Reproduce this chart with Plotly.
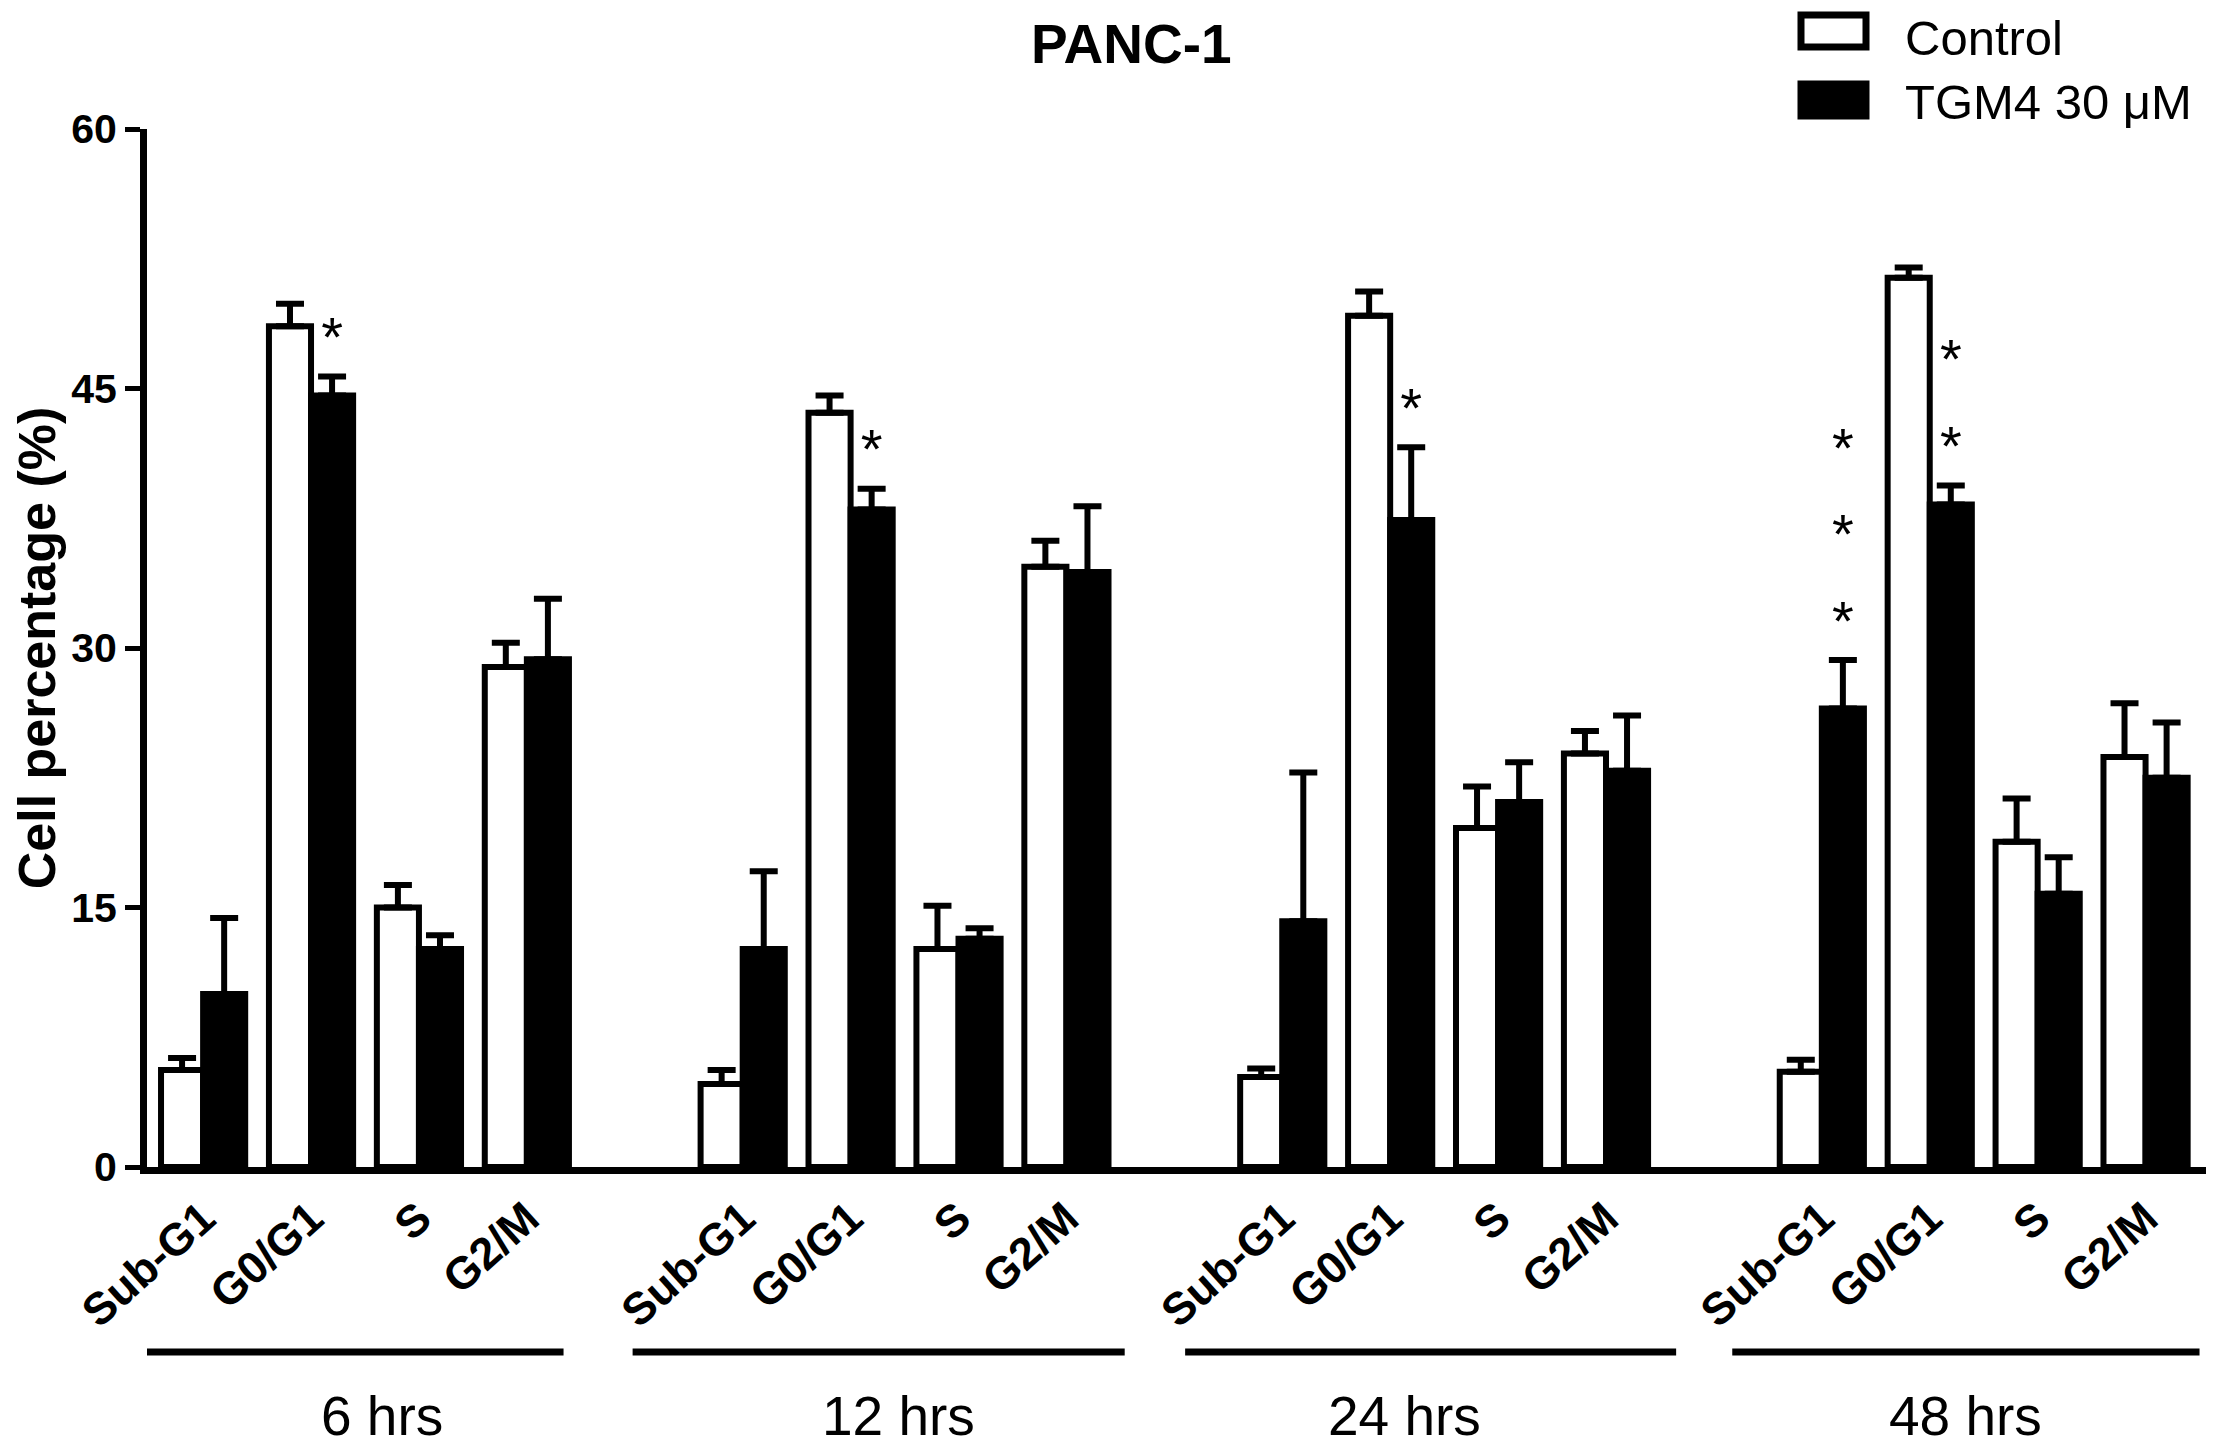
import plotly.graph_objects as go

# ---------------- data ----------------
phases = ["Sub-G1", "G0/G1", "S", "G2/M"]
times = ["6 hrs", "12 hrs", "24 hrs", "48 hrs"]

control_mean = [5.6, 48.6, 15.0, 28.9,
                4.8, 43.6, 12.6, 34.7,
                5.2, 49.2, 19.6, 23.9,
                5.5, 51.4, 18.8, 23.7]
control_err = [0.7, 1.3, 1.3, 1.4,
               0.8, 1.0, 2.5, 1.5,
               0.5, 1.4, 2.4, 1.3,
               0.7, 0.6, 2.5, 3.1]
tgm4_mean = [10.0, 44.6, 12.6, 29.35,
             12.6, 38.0, 13.2, 34.4,
             14.2, 37.4, 21.1, 22.9,
             26.5, 38.3, 15.8, 22.5]
tgm4_err = [4.4, 1.1, 0.8, 3.5,
            4.5, 1.2, 0.6, 3.8,
            8.6, 4.2, 2.3, 3.2,
            2.8, 1.1, 2.1, 3.2]
stars = [0, 1, 0, 0,
         0, 1, 0, 0,
         0, 1, 0, 0,
         3, 2, 0, 0]

# ---------------- layout helpers ----------------
PAGE_OFF = 8                      # default body margin of the html page
FW, FH = 2217 - 2 * PAGE_OFF, 1455 - 2 * PAGE_OFF
L = 147 - PAGE_OFF
R = FW - (2206 - PAGE_OFF)
T = 129 - PAGE_OFF
B = FH - (1167 - PAGE_OFF)
FONT = "Liberation Sans, Arial, sans-serif"
BARGAP = 0.22


def px_x(px):
    return (px - PAGE_OFF - L) / (FW - L - R)


def px_y(py):
    return (FH - B - (py - PAGE_OFF)) / (FH - B - T)


xpos = [g * 5 + i for g in range(len(times)) for i in range(len(phases))]
ticktext = [p for _ in times for p in phases]

fig = go.Figure()
fig.add_trace(go.Bar(
    x=xpos, y=control_mean, name="Control",
    marker=dict(color="white", line=dict(color="black", width=6)),
    error_y=dict(type="data", array=control_err, arrayminus=[0] * len(control_err),
                 symmetric=False, color="black", thickness=6, width=14),
    offsetgroup="c",
))
fig.add_trace(go.Bar(
    x=xpos, y=tgm4_mean, name="TGM4 30 μM",
    marker=dict(color="black", line=dict(color="black", width=6)),
    error_y=dict(type="data", array=tgm4_err, arrayminus=[0] * len(tgm4_err),
                 symmetric=False, color="black", thickness=6, width=14),
    offsetgroup="t",
))

# significance stars above TGM4 bars
sx, sy = [], []
shift = (1 - BARGAP) / 4
for x, m, e, n in zip(xpos, tgm4_mean, tgm4_err, stars):
    for k in range(n):
        sx.append(x + shift)
        sy.append(m + e + 2.0 + 5.0 * k)
fig.add_trace(go.Scatter(
    x=sx, y=sy, mode="text", text=["*"] * len(sx),
    textfont=dict(family=FONT, size=56, color="black"),
    textposition="middle center", showlegend=False, hoverinfo="skip",
    cliponaxis=False,
))

shapes = []
annotations = []

# chart title
annotations.append(dict(text="<b>PANC-1</b>", xref="paper", yref="paper",
                        x=px_x(1131), y=px_y(PAGE_OFF + 3), xanchor="center",
                        yanchor="top", showarrow=False,
                        font=dict(family=FONT, size=55, color="black")))

# group bars and labels under the axis
group_lines = [(-0.59, 3.34), (3.98, 8.54), (9.1, 13.65), (14.17, 18.5)]
label_x = [1.66, 6.44, 11.13, 16.33]
for (x0, x1), lx, t in zip(group_lines, label_x, times):
    shapes.append(dict(type="line", xref="x", yref="paper", x0=x0, x1=x1,
                       y0=px_y(1352), y1=px_y(1352),
                       line=dict(color="black", width=7)))
    annotations.append(dict(text=t, xref="x", yref="paper", x=lx, y=px_y(1416),
                            showarrow=False, xanchor="center", yanchor="middle",
                            font=dict(family=FONT, size=55, color="black")))

# manual legend (boxes + labels)
legend_items = [("Control", "white", 15, 47, "top", 9),
                ("TGM4 30 μM", "black", 84, 116, "middle", 102)]
for name, fill, y0, y1, anchor, ty in legend_items:
    shapes.append(dict(type="rect", xref="paper", yref="paper",
                       x0=px_x(1801), x1=px_x(1866), y0=px_y(y1), y1=px_y(y0),
                       fillcolor=fill, line=dict(color="black", width=7)))
    annotations.append(dict(text=name, xref="paper", yref="paper",
                            x=px_x(1903), y=px_y(ty),
                            xanchor="left", yanchor=anchor, showarrow=False,
                            font=dict(family=FONT, size=49, color="black")))

fig.update_layout(
    width=FW, height=FH,
    margin=dict(l=L, r=R, t=T, b=B),
    paper_bgcolor="white", plot_bgcolor="white",
    barmode="group", bargap=BARGAP, bargroupgap=0,
    showlegend=False,
    shapes=shapes, annotations=annotations,
    xaxis=dict(range=[-0.52, 18.56], tickmode="array", tickvals=xpos,
               ticktext=[f"<b>{t}</b>" for t in ticktext], tickangle=-42,
               tickfont=dict(family=FONT, size=45, color="black"),
               showline=True, linecolor="black", linewidth=7, ticks="",
               showgrid=False, zeroline=False, fixedrange=True),
    yaxis=dict(range=[0, 60], tickmode="array", tickvals=[0, 15, 30, 45, 60],
               ticktext=["<b>0</b>", "<b>15</b>", "<b>30</b>", "<b>45</b>", "<b>60</b>"],
               tickfont=dict(family=FONT, size=41, color="black"),
               showline=True, linecolor="black", linewidth=7,
               ticks="outside", ticklen=15, tickwidth=5, tickcolor="black",
               showgrid=False, zeroline=False,
               title=dict(text="<b>Cell percentage (%)</b>", standoff=10,
                          font=dict(family=FONT, size=52, color="black"))),
)

fig.write_html("out.html")
